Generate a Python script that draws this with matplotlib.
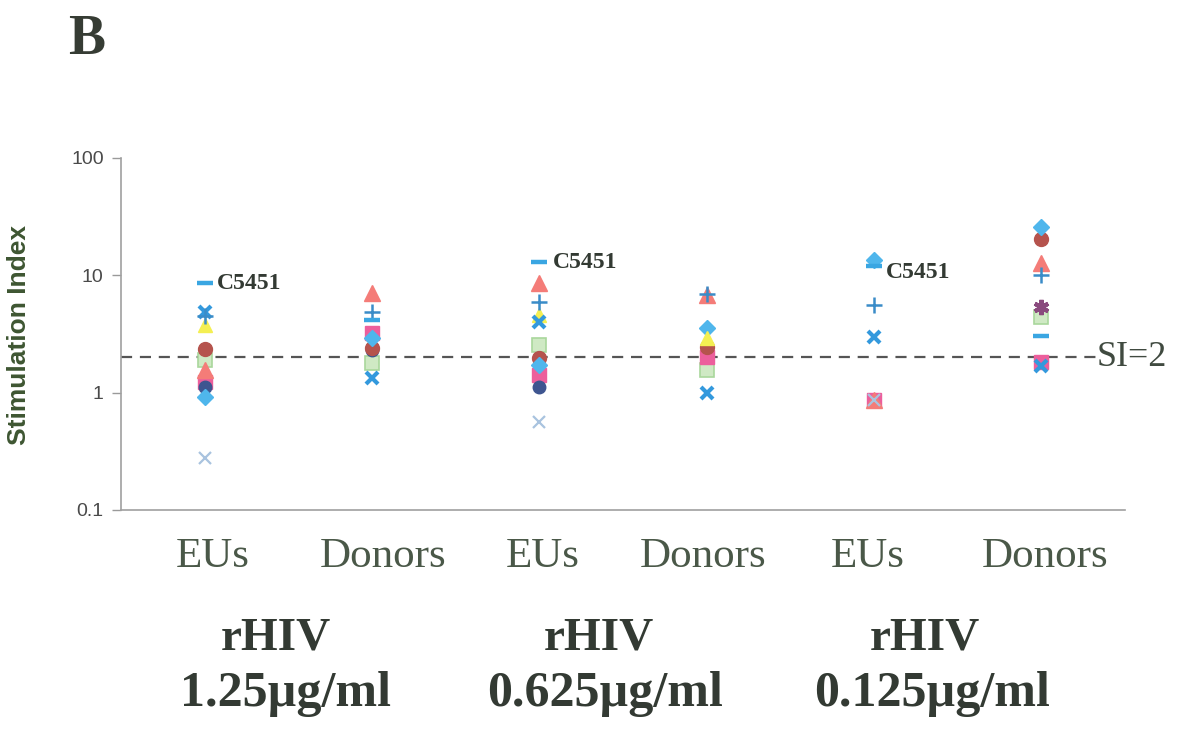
import numpy as np
import matplotlib
matplotlib.use("Agg")
import matplotlib.pyplot as plt

nan = np.nan

# x categories (two groups per rHIV concentration)
categories = ["EUs", "Donors", "EUs", "Donors", "EUs", "Donors"]
group_titles = ["rHIV", "rHIV", "rHIV"]
group_doses = ["1.25\u00b5g/ml", "0.625\u00b5g/ml", "0.125\u00b5g/ml"]

# stimulation index per subject series, one value per category column
si_dash = [8.55, 4.14, 12.9, nan, 12.0, 3.03]
si_cross = [4.9, 1.33, 3.98, 1.0, 2.97, 1.7]
si_plus = [4.5, 4.85, 5.9, 6.9, 5.55, 10.0]
si_salmon_tri = [1.55, 7.1, 8.55, 6.75, 0.87, 12.7]
si_yellow_tri = [3.75, nan, 4.57, 2.9, nan, nan]
si_brown_circ = [2.35, 2.4, 1.97, 2.44, nan, 20.6]
si_green_sq = [1.89, 1.8, 2.54, 1.55, nan, 4.4]
si_pink_sq = [1.23, 3.2, 1.41, 2.0, 0.87, 1.82]
si_blue_diam = [0.92, 2.9, 1.71, 3.55, 13.5, 25.7]
si_navy_circ = [1.11, 2.3, 1.11, nan, nan, nan]
si_pale_x = [0.277, nan, 0.56, nan, 0.87, nan]
si_purple_ast = [nan, nan, nan, nan, nan, 5.35]

threshold = 2.0
labelled_subject = "C5451"

W, H = 1183, 732
fig = plt.figure(figsize=(W / 100, H / 100), dpi=100)
ax = fig.add_axes([121 / W, 1 - 510 / H, 1004 / W, 352 / H])


def px(xp, yp):
    """Pixel position (from top-left) to figure fraction."""
    return xp / W, 1 - yp / H


x = np.arange(len(categories))

series = [
    (si_green_sq, dict(marker="s", ms=10, mfc="#cfe9c4", mec="#a9d79c", mew=1.2)),
    (si_pink_sq, dict(marker="s", ms=10, mfc="#ec5f9c", mec="#ec5f9c")),
    (si_navy_circ, dict(marker="o", ms=9, mfc="#3e5590", mec="#3e5590")),
    (si_brown_circ, dict(marker="o", ms=10, mfc="#b5534d", mec="#b5534d")),
    (si_blue_diam, dict(marker="D", ms=8, mfc="#4fb6ec", mec="#4fb6ec")),
    (si_yellow_tri, dict(marker="^", ms=10, mfc="#f4ef52", mec="#f4ef52")),
    (si_salmon_tri, dict(marker="^", ms=11, mfc="#f47c78", mec="#f47c78")),
    (si_pale_x, dict(marker="x", ms=9, mec="#a9c3df", mew=1.6)),
    (si_purple_ast, dict(marker=(6, 2, 0), ms=11, mec="#8a4a7e", mew=3)),
    (si_cross, dict(marker="x", ms=9, mec="#3399dd", mew=3)),
    (si_plus, dict(marker="+", ms=11, mec="#3a8cc8", mew=1.8)),
    (si_dash, dict(marker="_", ms=12, mec="#3aa6e2", mew=3.2)),
]
for vals, style in series:
    ax.plot(x, vals, linestyle="none", zorder=3, **style)

ax.set_yscale("log")
ax.set_ylim(0.1, 100)
ax.set_xlim(-0.5, 5.5)
ax.set_yticks([0.1, 1, 10, 100])
ax.set_yticklabels(["0.1", "1", "10", "100"])
ax.yaxis.set_minor_locator(matplotlib.ticker.NullLocator())
ax.tick_params(axis="y", direction="out", length=6.5, width=1, color="#9a9a9a",
               labelsize=14, labelcolor="#4a4a4a", pad=6)
for lab in ax.get_yticklabels():
    lab.set_family("Liberation Sans")

ax.set_xticks([])

for side in ("top", "right"):
    ax.spines[side].set_visible(False)
for side in ("left", "bottom"):
    ax.spines[side].set_color("#a0a0a0")
    ax.spines[side].set_linewidth(1.2)

fig.text(*px(19, 335), "Stimulation Index", rotation=90, ha="center", va="center",
         family="Liberation Sans", fontweight="bold", fontsize=19, color="#3e5632")

# category labels below the axis
cat_px = [213, 383, 543, 703, 868, 1045]
for name, xp in zip(categories, cat_px):
    fig.text(*px(xp, 557), name, ha="center", va="center",
             family="Liberation Serif", fontsize=31, color="#4a5848")

# SI=2 threshold line
ax.plot([-0.5, 5.35], [threshold, threshold], linestyle=(0, (5, 3.5)),
        color="#555555", lw=1.6, zorder=2, clip_on=False)
ax.text(5.33, threshold, "SI=2", family="Liberation Serif", fontsize=26,
        color="#404a40", ha="left", va="center")

# labels for the highlighted subject
for xi, yv, off in [(0, si_dash[0], (8.5, 0)), (2, si_dash[2], (10, 0)),
                    (4, si_blue_diam[4], (8.5, -9))]:
    ax.annotate(labelled_subject, (xi, yv), xytext=off, textcoords="offset points",
                ha="left", va="center", family="Liberation Serif", fontweight="bold",
                fontsize=17, color="#333a33")

# concentration group labels
title_px = [276, 599, 925]
dose_px = [285, 605, 932]
for t, d, tx, dx in zip(group_titles, group_doses, title_px, dose_px):
    fig.text(*px(tx, 638), t, ha="center", va="center", family="Liberation Serif",
             fontweight="bold", fontsize=34, color="#333a33")
    fig.text(*px(dx, 694), d, ha="center", va="center", family="Liberation Serif",
             fontweight="bold", fontsize=36, color="#333a33")

fig.text(*px(68, 40), "B", family="Liberation Serif", fontweight="bold",
         fontsize=40, color="#363c34", ha="left", va="center")

fig.savefig("out.png", dpi=100, facecolor="white")
